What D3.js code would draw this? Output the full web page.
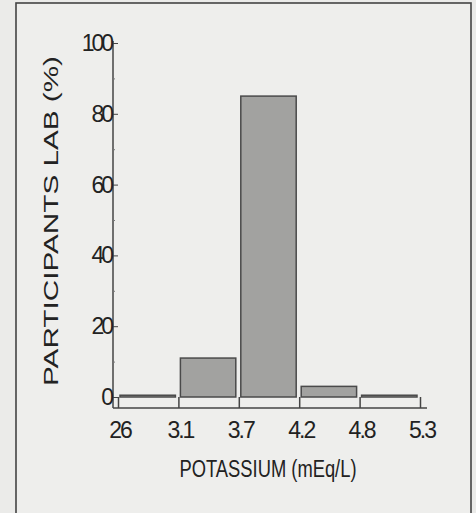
<!DOCTYPE html>
<html>
<head>
<meta charset="utf-8">
<script src="https://cdn.jsdelivr.net/npm/d3@7"></script>
<style>
  body { margin: 0; background: #ebebe9; }
  svg { display: block; }
  text { font-family: "Liberation Sans", Arial, sans-serif; fill: #222; }
</style>
</head>
<body>
<script>
// data
var binEdges = ["2.6", "3.1", "3.7", "4.2", "4.8", "5.3"];
var tickLabels = ["26", "3.1", "3.7", "4.2", "4.8", "5.3"];
var percents = [0.5, 11, 85, 3, 0.5];
var yTicks = [0, 20, 40, 60, 80, 100];

var width = 476, height = 513;

var canvas = d3.select("body").append("svg")
    .attr("width", width)
    .attr("height", height);

// ram runt figuren
canvas.append("rect")
    .attr("x", 16).attr("y", 3)
    .attr("width", 455).attr("height", 530)
    .attr("fill", "#eeeeec")
    .attr("stroke", "#444").attr("stroke-width", 1.6);

// scales
var xScale = d3.scalePoint().domain(binEdges).range([118, 420]);
var yScale = d3.scaleLinear().domain([0, 100]).range([397, 43]);
var axisY = 408;

// staplar
canvas.selectAll(".bar").data(percents).enter()
    .append("rect")
    .attr("class", "bar")
    .attr("x", function (d, i) { return xScale(binEdges[i]) + 2; })
    .attr("width", function (d, i) { return xScale(binEdges[i + 1]) - xScale(binEdges[i]) - 5; })
    .attr("y", function (d) { return yScale(d); })
    .attr("height", function (d) { return yScale(0) - yScale(d); })
    .attr("fill", "#a2a2a0")
    .attr("stroke", "#4a4a4a")
    .attr("stroke-width", 1.5);

// y-axel
var yAxis = d3.axisRight(yScale).tickValues(yTicks).tickSize(5).tickFormat("");
var yG = canvas.append("g").attr("transform", "translate(113,0)").call(yAxis);
yG.select(".domain").remove();
yG.selectAll("line").attr("stroke", "#444");
canvas.append("line")
    .attr("x1", 113).attr("x2", 113)
    .attr("y1", yScale(100) - 2).attr("y2", axisY)
    .attr("stroke", "#444").attr("stroke-width", 1.5);
// små streck
var yMinor = d3.axisRight(yScale).tickValues([10, 30, 50, 70, 90]).tickSize(2).tickFormat("");
var yM = canvas.append("g").attr("transform", "translate(113,0)").call(yMinor);
yM.select(".domain").remove();
yM.selectAll("line").attr("stroke", "#777");

canvas.selectAll(".ylab").data(yTicks).enter()
    .append("text")
    .attr("class", "ylab")
    .attr("x", 111)
    .attr("y", function (d) { return yScale(d) + 8; })
    .attr("text-anchor", "end")
    .attr("font-size", 23)
    .attr("letter-spacing", -3)
    .text(function (d) { return d; });

// x-axel
var xAxis = d3.axisTop(xScale).tickSize(11).tickFormat("");
var xG = canvas.append("g").attr("transform", "translate(0," + axisY + ")").call(xAxis);
xG.select(".domain").remove();
xG.selectAll("line").attr("stroke", "#444").attr("stroke-width", 1.5);
canvas.append("line")
    .attr("x1", 113).attr("x2", 427)
    .attr("y1", axisY).attr("y2", axisY)
    .attr("stroke", "#444").attr("stroke-width", 1.5);

canvas.selectAll(".xlab").data(tickLabels).enter()
    .append("text")
    .attr("class", "xlab")
    .attr("x", function (d, i) { return xScale(binEdges[i]) + 2; })
    .attr("y", 438)
    .attr("text-anchor", "middle")
    .attr("font-size", 23)
    .attr("letter-spacing", -2)
    .text(function (d) { return d; });

// axeltitlar
canvas.append("text")
    .attr("x", 268).attr("y", 477)
    .attr("text-anchor", "middle")
    .attr("font-size", 23)
    .attr("textLength", 177)
    .attr("lengthAdjust", "spacingAndGlyphs")
    .text("POTASSIUM  (mEq/L)");

canvas.append("text")
    .attr("transform", "translate(58,221) rotate(-90)")
    .attr("text-anchor", "middle")
    .attr("font-size", 20)
    .attr("textLength", 330)
    .attr("lengthAdjust", "spacingAndGlyphs")
    .text("PARTICIPANTS LAB  (%)");
</script>
</body>
</html>
